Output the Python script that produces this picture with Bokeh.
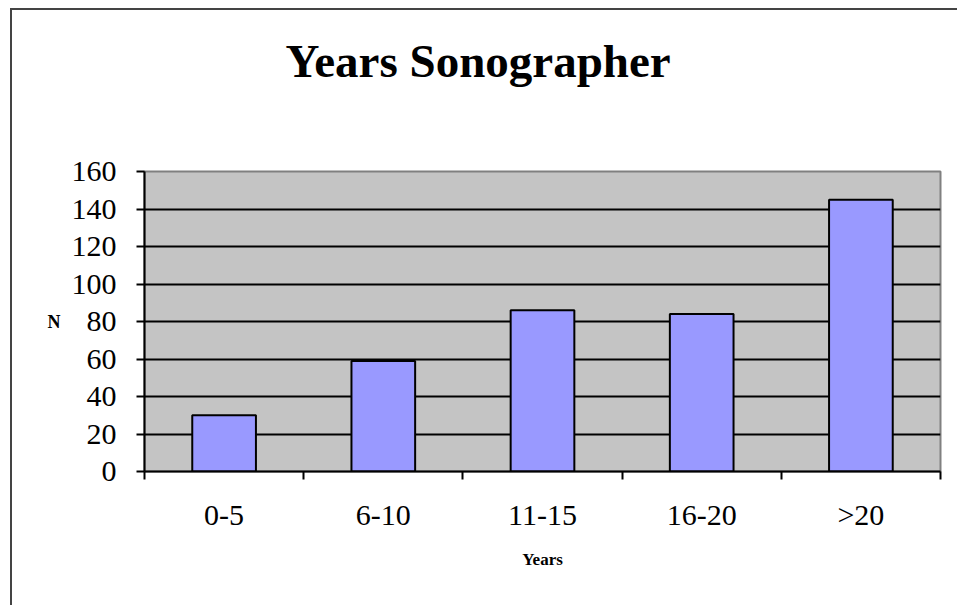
from bokeh.plotting import figure
from bokeh.models import FixedTicker, Range1d, Title
from bokeh.embed import file_html
from bokeh.resources import INLINE

categories = ["0-5", "6-10", "11-15", "16-20", ">20"]
counts = [30, 59, 86, 84, 145]
y_ticks = [0, 20, 40, 60, 80, 100, 120, 140, 160]
grid_ticks = [20, 40, 60, 80, 100, 120, 140]

centers = [i + 0.5 for i in range(len(categories))]
bounds = list(range(len(categories) + 1))

FONT = "Liberation Serif"

p = figure(width=947, height=597, output_backend="svg", toolbar_location=None,
           x_range=Range1d(0, len(categories)), y_range=Range1d(0, 160),
           min_border_left=132, min_border_top=161, min_border_right=19,
           min_border_bottom=136)
p.styles = {"border-left": "2px solid #444444", "border-top": "2px solid #444444",
            "margin-left": "10px", "margin-top": "8px"}

p.background_fill_color = "#C4C4C4"
p.border_fill_color = "white"
p.outline_line_color = "#808080"
p.outline_line_width = 2

p.vbar(x=centers, top=counts, width=0.4, bottom=0,
       fill_color="#9999FF", line_color="black", line_width=2)

# grid
p.xgrid.visible = False
p.ygrid.ticker = FixedTicker(ticks=grid_ticks)
p.ygrid.grid_line_color = "black"
p.ygrid.grid_line_width = 2

# y axis
yax = p.yaxis[0]
yax.ticker = FixedTicker(ticks=y_ticks)
yax.axis_line_color = "black"
yax.axis_line_width = 2
yax.major_tick_line_color = "black"
yax.major_tick_line_width = 2
yax.major_tick_out = 8
yax.major_tick_in = 0
yax.minor_tick_line_color = None
yax.major_label_text_font = FONT
yax.major_label_text_font_size = "30px"
yax.major_label_text_color = "black"
yax.major_label_standoff = 20
yax.axis_label = "N"
yax.axis_label_text_font = FONT
yax.axis_label_text_font_size = "18px"
yax.axis_label_text_font_style = "bold"
yax.axis_label_text_color = "black"
yax.axis_label_standoff = 8
if hasattr(type(yax), "axis_label_orientation"):
    yax.axis_label_orientation = "horizontal"

# x axis
xax = p.xaxis[0]
xax.ticker = FixedTicker(ticks=centers, minor_ticks=bounds)
xax.major_label_overrides = {c: lab for c, lab in zip(centers, categories)}
xax.axis_line_color = "black"
xax.axis_line_width = 2
xax.major_tick_line_color = None
xax.major_tick_out = 8
xax.major_tick_in = 0
xax.minor_tick_line_color = "black"
xax.minor_tick_line_width = 2
xax.minor_tick_out = 8
xax.minor_tick_in = 0
xax.major_label_text_font = FONT
xax.major_label_text_font_size = "30px"
xax.major_label_text_color = "black"
xax.major_label_standoff = 18
xax.axis_label = "Years"
xax.axis_label_text_font = FONT
xax.axis_label_text_font_size = "17px"
xax.axis_label_text_font_style = "bold"
xax.axis_label_text_color = "black"
xax.axis_label_standoff = 16

# spacer between frame and title (nearest the frame)
p.add_layout(Title(text=" ", text_font_size="1px", standoff=60), "above")
p.add_layout(Title(text="Years Sonographer", text_font=FONT, text_font_size="47px",
                   text_font_style="bold", text_color="black", align="left",
                   offset=141, standoff=44), "above")

open("out.html", "w").write(file_html(p, INLINE))
